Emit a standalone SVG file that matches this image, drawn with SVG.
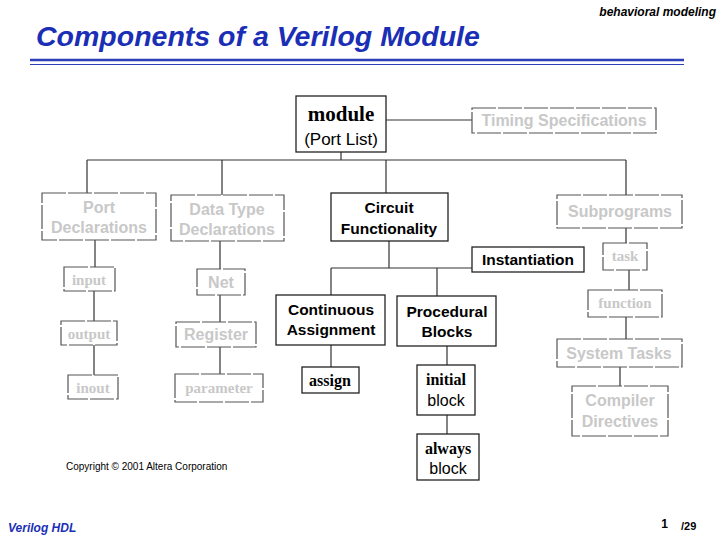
<svg xmlns="http://www.w3.org/2000/svg" width="720" height="540" viewBox="0 0 720 540">
<style>
.b{fill:#fff;stroke:#222;stroke-width:1.3}
.g{fill:#fff;stroke:#555;stroke-width:1.2;stroke-dasharray:24 2}
.s{font-family:"Liberation Sans",Arial,sans-serif;text-anchor:middle}
.r{font-family:"Liberation Serif","Times New Roman",serif;text-anchor:middle;font-weight:bold}
.gt{fill:#c8c8c8}
.c{stroke:#333;stroke-width:1.2;fill:none}
</style>
<rect width="720" height="540" fill="#fff"/>
<text x="716" y="16" font-family="Liberation Sans,Arial,sans-serif" font-size="12" font-weight="bold" font-style="italic" text-anchor="end">behavioral modeling</text>
<text x="36" y="46" font-family="Liberation Sans,Arial,sans-serif" font-size="28.5" font-weight="bold" font-style="italic" fill="#1a2fb5">Components of a Verilog Module</text>
<line x1="30" y1="60" x2="684" y2="60" stroke="#2a3fb8" stroke-width="2.5"/>
<line x1="30" y1="64.5" x2="684" y2="64.5" stroke="#2a3fb8" stroke-width="1"/>
<g id="connectors" class="c">
<path d="M386 120H472M341 152V160M87 160H626M87 160V193M222 160V195M386 160V193M626 160V195"/>
<path d="M95 240V267M94 291V321M94 345V375"/>
<path d="M220 241V269M220 295V322M220 347V374"/>
<path d="M389 241V268M331 268H472M331 268V295M437 268V296M331 345V367M447 346V365M447 415V434"/>
<path d="M626 228V243M629 270V290M626 317V339M620 367V386"/>
</g>
<g id="module"><rect class="b" x="296" y="96" width="90" height="56"/><text class="r" x="341" y="121" font-size="21">module</text><text class="s" x="341" y="145" font-size="17">(Port List)</text></g>
<g id="timing"><rect class="g" x="472" y="108" width="184" height="25"/><text class="s gt" x="564" y="126" font-size="16" font-weight="bold">Timing Specifications</text></g>
<g id="port"><rect class="g" x="42" y="193" width="114" height="47"/><text class="s gt" x="99" y="213" font-size="16" font-weight="bold">Port</text><text class="s gt" x="99" y="233" font-size="16" font-weight="bold">Declarations</text></g>
<g id="datatype"><rect class="g" x="171" y="195" width="113" height="46"/><text class="s gt" x="227" y="215" font-size="16" font-weight="bold">Data Type</text><text class="s gt" x="227" y="235" font-size="16" font-weight="bold">Declarations</text></g>
<g id="circuit"><rect class="b" x="331" y="193" width="117" height="48"/><text class="s" x="389" y="213" font-size="15.5" font-weight="bold">Circuit</text><text class="s" x="389" y="234" font-size="15.5" font-weight="bold">Functionality</text></g>
<g id="subprograms"><rect class="g" x="557" y="195" width="125" height="33"/><text class="s gt" x="620" y="217" font-size="16" font-weight="bold">Subprograms</text></g>
<g id="input"><rect class="g" x="64" y="267" width="51" height="24"/><text class="r gt" x="89" y="285" font-size="15">input</text></g>
<g id="output"><rect class="g" x="61" y="321" width="56" height="24"/><text class="r gt" x="89" y="339" font-size="15">output</text></g>
<g id="inout"><rect class="g" x="68" y="375" width="50" height="24"/><text class="r gt" x="93" y="393" font-size="15">inout</text></g>
<g id="net"><rect class="g" x="197" y="269" width="48" height="26"/><text class="s gt" x="221" y="288" font-size="16" font-weight="bold">Net</text></g>
<g id="register"><rect class="g" x="176" y="322" width="80" height="25"/><text class="s gt" x="216" y="340" font-size="16" font-weight="bold">Register</text></g>
<g id="parameter"><rect class="g" x="175" y="374" width="88" height="28"/><text class="r gt" x="219" y="393" font-size="15">parameter</text></g>
<g id="instantiation"><rect class="b" x="472" y="247" width="112" height="25"/><text class="s" x="528" y="265" font-size="15.5" font-weight="bold">Instantiation</text></g>
<g id="continuous"><rect class="b" x="276" y="295" width="109" height="50"/><text class="s" x="331" y="315" font-size="15.5" font-weight="bold">Continuous</text><text class="s" x="331" y="335" font-size="15.5" font-weight="bold">Assignment</text></g>
<g id="procedural"><rect class="b" x="397" y="296" width="99" height="50"/><text class="s" x="447" y="317" font-size="15.5" font-weight="bold">Procedural</text><text class="s" x="447" y="337" font-size="15.5" font-weight="bold">Blocks</text></g>
<g id="assign"><rect class="b" x="302" y="367" width="57" height="26"/><text class="r" x="330" y="386" font-size="16">assign</text></g>
<g id="initial"><rect class="b" x="417" y="365" width="58" height="50"/><text class="r" x="446" y="385" font-size="16">initial</text><text class="s" x="446" y="406" font-size="16">block</text></g>
<g id="always"><rect class="b" x="417" y="434" width="62" height="46"/><text class="r" x="448" y="454" font-size="16">always</text><text class="s" x="448" y="474" font-size="16">block</text></g>
<g id="task"><rect class="g" x="603" y="243" width="44" height="27"/><text class="r gt" x="625" y="261" font-size="15">task</text></g>
<g id="function"><rect class="g" x="588" y="290" width="74" height="27"/><text class="r gt" x="625" y="308" font-size="15">function</text></g>
<g id="systasks"><rect class="g" x="557" y="339" width="125" height="28"/><text class="s gt" x="619" y="359" font-size="16" font-weight="bold">System Tasks</text></g>
<g id="compiler"><rect class="g" x="572" y="386" width="96" height="50"/><text class="s gt" x="620" y="406" font-size="16" font-weight="bold">Compiler</text><text class="s gt" x="620" y="427" font-size="16" font-weight="bold">Directives</text></g>
<text x="66" y="470" font-family="Liberation Sans,Arial,sans-serif" font-size="10">Copyright © 2001 Altera Corporation</text>
<text x="8" y="532" font-family="Liberation Sans,Arial,sans-serif" font-size="12" font-weight="bold" font-style="italic" fill="#1a2fb5">Verilog HDL</text>
<text x="668" y="528" font-family="Liberation Sans,Arial,sans-serif" font-size="12" font-weight="bold" text-anchor="end">1</text>
<text x="681" y="530" font-family="Liberation Sans,Arial,sans-serif" font-size="11" font-weight="bold">/29</text>
</svg>
